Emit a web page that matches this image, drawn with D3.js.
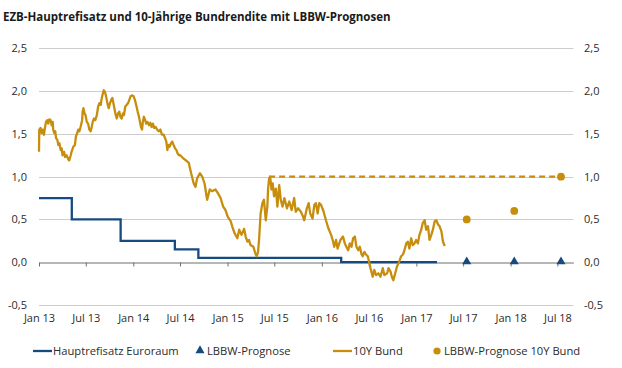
<!DOCTYPE html>
<html>
<head>
<meta charset="utf-8">
<script src="https://cdn.jsdelivr.net/npm/d3@7"></script>
<style>
  html, body { margin: 0; padding: 0; background: #ffffff; }
  svg { display: block; }
  text { font-family: "Open Sans", "DejaVu Sans", sans-serif; }
</style>
</head>
<body>
<svg id="chart" width="622" height="368"></svg>
<script>
// ---------- DATA ----------
const title = "EZB-Hauptrefisatz und 10-Jährige Bundrendite mit LBBW-Prognosen";

const xTickDates = ["2013-01-01","2013-07-01","2014-01-01","2014-07-01","2015-01-01","2015-07-01",
                    "2016-01-01","2016-07-01","2017-01-01","2017-07-01","2018-01-01","2018-07-01"];
const xTickLabels = ["Jan 13","Jul 13","Jan 14","Jul 14","Jan 15","Jul 15",
                     "Jan 16","Jul 16","Jan 17","Jul 17","Jan 18","Jul 18"];
const yTickValues = [-0.5, 0, 0.5, 1.0, 1.5, 2.0, 2.5];
const yTickLabels = ["-0,5","0,0","0,5","1,0","1,5","2,0","2,5"];

// EZB-Hauptrefinanzierungssatz (step series)
const refiDates  = ["2013-01-01","2013-05-08","2013-11-13","2014-06-11","2014-09-10","2016-03-16","2017-03-22"];
const refiValues = [0.75, 0.50, 0.25, 0.15, 0.05, 0.00, 0.00];

// 10Y Bund yield
const bundDates = [
"2013-01-01","2013-01-02","2013-01-07","2013-01-11","2013-01-15","2013-01-20","2013-01-24","2013-01-28",
"2013-02-02","2013-02-06","2013-02-10","2013-02-15","2013-02-19","2013-02-23","2013-02-25","2013-03-01",
"2013-03-05","2013-03-08","2013-03-13","2013-03-17","2013-03-21","2013-03-26","2013-03-30","2013-04-02",
"2013-04-08","2013-04-12","2013-04-18","2013-04-25","2013-04-28","2013-05-04","2013-05-07","2013-05-14",
"2013-05-20","2013-05-24","2013-05-29","2013-06-02","2013-06-06","2013-06-11","2013-06-17","2013-06-19",
"2013-06-22","2013-06-26","2013-06-30","2013-07-05","2013-07-10","2013-07-15","2013-07-20","2013-07-24",
"2013-07-28","2013-08-02","2013-08-07","2013-08-13","2013-08-18","2013-08-23","2013-08-28","2013-09-01",
"2013-09-05","2013-09-09","2013-09-13","2013-09-17","2013-09-20","2013-09-24","2013-09-28","2013-10-03",
"2013-10-08","2013-10-12","2013-10-16","2013-10-21","2013-10-25","2013-10-29","2013-11-03","2013-11-08",
"2013-11-12","2013-11-17","2013-11-22","2013-11-26","2013-12-01","2013-12-07","2013-12-12","2013-12-17",
"2013-12-22","2013-12-27","2014-01-02","2014-01-07","2014-01-12","2014-01-18","2014-01-23","2014-01-27",
"2014-01-31","2014-02-04","2014-02-07","2014-02-11","2014-02-16","2014-02-20","2014-02-25","2014-03-03",
"2014-03-08","2014-03-13","2014-03-18","2014-03-23","2014-03-29","2014-04-03","2014-04-09","2014-04-16",
"2014-04-22","2014-04-29","2014-05-04","2014-05-09","2014-05-13","2014-05-17","2014-05-22","2014-05-27",
"2014-06-01","2014-06-06","2014-06-12","2014-06-17","2014-06-22","2014-06-27","2014-07-02","2014-07-15",
"2014-07-28","2014-08-04","2014-08-13","2014-08-23","2014-08-30","2014-09-05","2014-09-16","2014-09-25",
"2014-10-04","2014-10-14","2014-10-24","2014-11-02","2014-11-15","2014-11-24","2014-12-05","2014-12-15",
"2014-12-24","2015-01-02","2015-01-13","2015-01-19","2015-01-28","2015-02-08","2015-02-15","2015-02-24",
"2015-03-06","2015-03-12","2015-03-19","2015-03-25","2015-03-31","2015-04-11","2015-04-20","2015-04-24",
"2015-04-29","2015-05-03","2015-05-09","2015-05-16","2015-05-22","2015-05-29","2015-06-04","2015-06-07",
"2015-06-11","2015-06-15","2015-06-20","2015-06-25","2015-06-30","2015-07-07","2015-07-13","2015-07-20",
"2015-07-26","2015-08-02","2015-08-09","2015-08-19","2015-08-28","2015-09-06","2015-09-16","2015-09-22",
"2015-10-01","2015-10-12","2015-10-18","2015-10-25","2015-11-04","2015-11-11","2015-11-17","2015-11-26",
"2015-12-03","2015-12-09","2015-12-16","2015-12-22","2015-12-29","2016-01-08","2016-01-17","2016-01-26",
"2016-02-06","2016-02-12","2016-02-18","2016-02-25","2016-03-02","2016-03-13","2016-03-23","2016-03-30",
"2016-04-05","2016-04-12","2016-04-18","2016-04-25","2016-05-01","2016-05-08","2016-05-14","2016-05-21",
"2016-05-27","2016-06-03","2016-06-07","2016-06-14","2016-06-20","2016-06-27","2016-07-03","2016-07-09",
"2016-07-16","2016-07-22","2016-07-29","2016-08-07","2016-08-15","2016-08-24","2016-08-30","2016-09-10",
"2016-09-15","2016-09-23","2016-09-28","2016-10-04","2016-10-11","2016-10-18","2016-10-27","2016-11-03",
"2016-11-10","2016-11-16","2016-11-23","2016-11-29","2016-12-05","2016-12-12","2016-12-18","2016-12-25",
"2016-12-31","2017-01-07","2017-01-13","2017-01-20","2017-01-26","2017-02-02","2017-02-08","2017-02-15",
"2017-02-21","2017-02-28","2017-03-06","2017-03-13","2017-03-19","2017-03-26","2017-04-01","2017-04-08",
"2017-04-14","2017-04-21"];
const bundValues = [
1.29,1.55,1.57,1.51,1.55,1.49,1.57,1.64,
1.66,1.62,1.67,1.66,1.60,1.64,1.55,1.51,
1.53,1.45,1.43,1.37,1.39,1.31,1.33,1.25,
1.29,1.23,1.25,1.20,1.19,1.25,1.29,1.35,
1.37,1.47,1.51,1.55,1.53,1.58,1.66,1.76,
1.80,1.74,1.72,1.64,1.62,1.55,1.53,1.58,
1.64,1.68,1.66,1.72,1.82,1.86,1.84,1.92,
1.97,2.01,1.99,1.95,1.90,1.84,1.80,1.86,
1.90,1.92,1.86,1.78,1.72,1.68,1.74,1.76,
1.70,1.68,1.74,1.72,1.82,1.84,1.86,1.90,
1.94,1.95,1.94,1.90,1.84,1.76,1.70,1.64,
1.58,1.55,1.64,1.70,1.66,1.62,1.64,1.60,
1.63,1.58,1.62,1.57,1.58,1.55,1.53,1.55,
1.49,1.49,1.45,1.41,1.31,1.37,1.35,1.39,
1.41,1.37,1.33,1.31,1.27,1.25,1.25,1.21,
1.18,1.16,1.04,0.92,0.88,0.98,1.04,1.00,
0.92,0.73,0.85,0.83,0.85,0.81,0.75,0.65,
0.61,0.53,0.48,0.42,0.34,0.28,0.38,0.32,
0.39,0.30,0.24,0.26,0.20,0.18,0.09,0.07,
0.12,0.26,0.57,0.69,0.73,0.49,0.65,0.86,
0.98,1.00,0.85,0.92,0.77,0.86,0.65,0.90,
0.73,0.65,0.75,0.63,0.71,0.61,0.75,0.59,
0.63,0.59,0.55,0.49,0.63,0.69,0.57,0.51,
0.67,0.69,0.57,0.69,0.67,0.59,0.49,0.40,
0.32,0.26,0.18,0.26,0.16,0.26,0.30,0.22,
0.18,0.14,0.22,0.18,0.28,0.30,0.18,0.14,
0.18,0.09,0.07,0.12,0.09,0.07,-0.01,-0.09,
-0.17,-0.09,-0.15,-0.13,-0.17,-0.07,-0.15,-0.13,
-0.07,-0.11,-0.17,-0.21,-0.13,-0.05,0.01,0.07,
0.09,0.14,0.22,0.24,0.16,0.28,0.20,0.22,
0.26,0.22,0.32,0.38,0.46,0.49,0.38,0.42,
0.26,0.32,0.38,0.48,0.49,0.44,0.42,0.36,
0.24,0.19];

// LBBW forecasts
const forecastDates = ["2017-07-15","2018-01-15","2018-07-15"];
const refiForecast  = [0.00, 0.00, 0.00];
const bundForecast  = [0.50, 0.60, 1.00];

// dashed 1,0 % reference line for Bund forecast
const bundTargetDates  = ["2015-06-11","2018-07-15"];
const bundTargetValues = [1.00, 1.00];

const legendLabels = ["Hauptrefisatz Euroraum","LBBW-Prognose","10Y Bund","LBBW-Prognose 10Y Bund"];

// ---------- STYLE ----------
const BLUE = "#164b80";
const GOLD = "#c78e0e";
const GRID = "#cccccc";
const TEXT = "#2b2b2b";

// ---------- CHART ----------
const parse = d3.timeParse("%Y-%m-%d");
const svg = d3.select("#chart");

const x = d3.scaleTime()
  .domain([parse("2013-01-01"), parse("2018-09-01")])
  .range([39, 573.4]);
const y = d3.scaleLinear()
  .domain([-0.5, 2.5])
  .range([305, 48.3]);

// title
svg.append("text")
  .attr("x", 3).attr("y", 21)
  .attr("font-size", 11.5).attr("font-weight", 700)
  .attr("fill", "#1a1a1a")
  .text(title);

// gridlines (except zero)
svg.append("g").selectAll("line")
  .data(yTickValues.filter(v => v !== 0))
  .join("line")
  .attr("x1", x.range()[0]).attr("x2", x.range()[1])
  .attr("y1", d => Math.round(y(d)) + 0.5).attr("y2", d => Math.round(y(d)) + 0.5)
  .attr("stroke", GRID).attr("stroke-width", 1);

// y labels left and right
const yLab = yTickValues.map((v, i) => ({v, label: yTickLabels[i]}));
svg.append("g").selectAll("text")
  .data(yLab).join("text")
  .attr("x", 27).attr("y", d => y(d.v)).attr("dy", "0.35em")
  .attr("text-anchor", "end").attr("font-size", 11).attr("fill", TEXT)
  .text(d => d.label);
svg.append("g").selectAll("text")
  .data(yLab).join("text")
  .attr("x", 584).attr("y", d => y(d.v)).attr("dy", "0.35em")
  .attr("text-anchor", "start").attr("font-size", 11).attr("fill", TEXT)
  .text(d => d.label);

// x axis at zero
const xAxis = d3.axisBottom(x)
  .tickValues(xTickDates.map(parse))
  .tickFormat((d, i) => xTickLabels[i])
  .tickSizeInner(4).tickSizeOuter(0).tickPadding(48);
const gx = svg.append("g")
  .attr("transform", `translate(0,${Math.round(y(0)) + 0.5})`)
  .call(xAxis);
gx.select(".domain").attr("stroke", "#6f6f6f");
gx.selectAll(".tick line").attr("stroke", "#6f6f6f");
gx.selectAll(".tick text")
  .attr("font-family", "'Open Sans', sans-serif")
  .attr("font-size", 11).attr("fill", TEXT);

// dashed target line
const line = d3.line().x(d => x(d.date)).y(d => y(d.value));
svg.append("path")
  .datum(bundTargetDates.map((d, i) => ({date: parse(d), value: bundTargetValues[i]})))
  .attr("d", line)
  .attr("fill", "none").attr("stroke", GOLD).attr("stroke-width", 2.2)
  .attr("stroke-dasharray", "6,4");

// refi step line
svg.append("path")
  .datum(refiDates.map((d, i) => ({date: parse(d), value: refiValues[i]})))
  .attr("d", d3.line().x(d => x(d.date)).y(d => y(d.value)).curve(d3.curveStepAfter))
  .attr("fill", "none").attr("stroke", BLUE).attr("stroke-width", 2.3);

// Bund line
svg.append("path")
  .datum(bundDates.map((d, i) => ({date: parse(d), value: bundValues[i]})))
  .attr("d", line)
  .attr("fill", "none").attr("stroke", GOLD).attr("stroke-width", 2.3)
  .attr("stroke-linejoin", "round");

// forecast markers
const tri = d3.symbol().type(d3.symbolTriangle).size(36);
svg.append("g").selectAll("path")
  .data(forecastDates.map((d, i) => ({date: parse(d), value: refiForecast[i]})))
  .join("path")
  .attr("d", tri)
  .attr("transform", d => `translate(${x(d.date)},${y(d.value) - 0.5})`)
  .attr("fill", BLUE);
svg.append("g").selectAll("circle")
  .data(forecastDates.map((d, i) => ({date: parse(d), value: bundForecast[i]})))
  .join("circle")
  .attr("cx", d => x(d.date)).attr("cy", d => y(d.value))
  .attr("r", 3.9).attr("fill", GOLD);

// legend
const ly = 351;
const leg = svg.append("g").attr("font-size", 11.2).attr("fill", TEXT);
leg.append("line").attr("x1", 33).attr("x2", 52).attr("y1", ly).attr("y2", ly)
  .attr("stroke", BLUE).attr("stroke-width", 2.3);
leg.append("text").attr("x", 53).attr("y", ly).attr("dy", "0.35em").text(legendLabels[0]);
leg.append("path").attr("d", tri).attr("transform", `translate(200,${ly - 0.5})`).attr("fill", BLUE);
leg.append("text").attr("x", 207).attr("y", ly).attr("dy", "0.35em").text(legendLabels[1]);
leg.append("line").attr("x1", 333).attr("x2", 352).attr("y1", ly).attr("y2", ly)
  .attr("stroke", GOLD).attr("stroke-width", 2.3);
leg.append("text").attr("x", 353).attr("y", ly).attr("dy", "0.35em").text(legendLabels[2]);
leg.append("circle").attr("cx", 437).attr("cy", ly).attr("r", 3.6).attr("fill", GOLD);
leg.append("text").attr("x", 444).attr("y", ly).attr("dy", "0.35em").text(legendLabels[3]);
</script>
</body>
</html>
